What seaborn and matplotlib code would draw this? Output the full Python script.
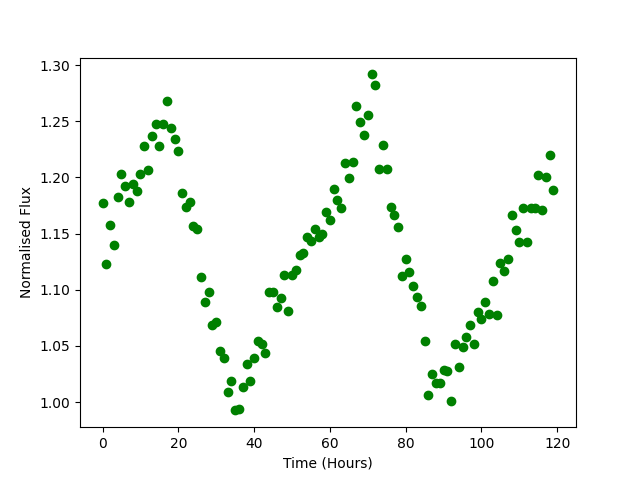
import numpy as np
import pandas as pd
import matplotlib
matplotlib.use("Agg")
import matplotlib.pyplot as plt
import seaborn as sns

# hourly samples, 0..119
time_hours = list(range(120))

# normalised flux
flux = [
    1.177, 1.123, 1.1575, 1.140, 1.1825, 1.2027, 1.192, 1.178, 1.194, 1.188,
    1.203, 1.2276, 1.207, 1.237, 1.248, 1.2276, 1.248, 1.2685, 1.2445, 1.2347,
    1.224, 1.1866, 1.174, 1.1786, 1.157, 1.1537, 1.111, 1.0887, 1.0976, 1.069,
    1.071, 1.0454, 1.039, 1.0086, 1.0184, 0.9926, 0.994, 1.013, 1.034, 1.0184,
    1.039, 1.0543, 1.052, 1.0434, 1.098, 1.098, 1.085, 1.093, 1.1128, 1.0808,
    1.1128, 1.1173, 1.1306, 1.1324, 1.147, 1.1437, 1.1543, 1.1472, 1.1496, 1.169,
    1.1618, 1.1897, 1.180, 1.1725, 1.2126, 1.1992, 1.2134, 1.2633, 1.249, 1.2375,
    1.2553, 1.2918, 1.282, 1.2072, 1.2286, 1.208, 1.1736, 1.1662, 1.1558, 1.112,
    1.127, 1.1155, 1.103, 1.094, 1.086, 1.054, 1.006, 1.0247, 1.0167, 1.0167,
    1.029, 1.0273, 1.0006, 1.0514, 1.031, 1.0487, 1.0576, 1.0683, 1.0514, 1.0799,
    1.0736, 1.0888, 1.078, 1.1075, 1.0772, 1.1243, 1.1164, 1.127, 1.1662, 1.1529,
    1.1422, 1.1725, 1.1422, 1.1725, 1.1725, 1.2019, 1.1707, 1.200, 1.2197, 1.1888,
]

df = pd.DataFrame({"time": time_hours, "flux": flux})

fig, ax = plt.subplots(figsize=(6.4, 4.8), dpi=100)
sns.scatterplot(data=df, x="time", y="flux", color="green", edgecolor="green",
                s=36, linewidth=1, ax=ax)
ax.set_xlabel("Time (Hours)")
ax.set_ylabel("Normalised Flux")

fig.savefig("out.png", dpi=100)
